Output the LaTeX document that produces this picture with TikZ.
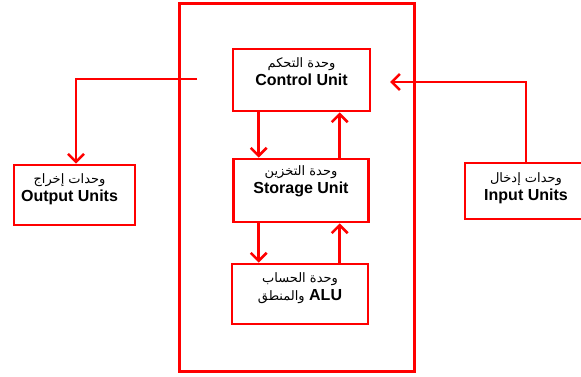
\documentclass[tikz,border=0pt]{standalone}
\usepackage{fontspec}
\setmainfont{Liberation Sans}
\newfontfamily\arabicfont[Script=Arabic]{DejaVu Sans}
\TeXXeTstate=1
\usetikzlibrary{arrows.meta}

\tikzset{
  unitbox/.style={draw=red, line width=2.6pt, inner sep=0pt},
  unittext/.style={align=center, font=\fontsize{16}{19}\selectfont\bfseries, inner sep=0pt},
  arr/.style={draw=red, line width=2.6pt, -{Straight Barb[length=8pt,width=16pt]}}
}
\newcommand{\ar}[1]{{\arabicfont\fontsize{13}{14}\selectfont\mdseries\beginR #1\endR}}

\begin{document}
\begin{tikzpicture}[x=1pt,y=-1pt]
  \useasboundingbox (0,0) rectangle (581,377);

  % the big frame
  \node[unitbox, minimum width=235pt, minimum height=368pt] (cpu) at (297,187.5) {};

  % units inside the frame
  \node[unitbox, minimum width=137pt, minimum height=62pt] (control) at (301.5,80) {};
  \node[unitbox, minimum width=135pt, minimum height=63pt] (storage) at (301,190.5) {};
  \node[unitbox, minimum width=136pt, minimum height=60pt] (alu) at (300,294) {};

  % outside units
  \node[unitbox, minimum width=121pt, minimum height=60pt] (output) at (74.5,195) {};
  \node[unitbox, minimum width=120pt, minimum height=56pt] (input) at (525,191) {};

  \node[unittext] (controltxt) at ([yshift=8pt]control.center) {\ar{وحدة التحكم}\\[-1pt] Control Unit};
  \node[unittext] (storagetxt) at ([yshift=9pt]storage.center) {\ar{وحدة التخزين}\\[-1pt] Storage Unit};
  \node[unittext] (alutxt) at ([yshift=6pt]alu.center) {\ar{وحدة الحساب}\\[-1pt] \ar{والمنطق} ALU};
  \node[unittext] (outputtxt) at ([xshift=-5pt,yshift=5.5pt]output.center) {\ar{وحدات إخراج}\\[-1pt] Output Units};
  \node[unittext] (inputtxt) at ([xshift=1pt,yshift=3pt]input.center) {\ar{وحدات إدخال}\\[-1pt] Input Units};

  % connectors
  \coordinate (outstart) at (197,79);
  \coordinate (inend) at (390,82);
  \draw[arr] (outstart) -| ([xshift=1.5pt]output.north);
  \draw[arr] ([xshift=1pt]input.north) |- (inend);

  \draw[arr] ([xshift=27pt]control.south west) -- ([xshift=27pt]control.south west |- storage.north);
  \draw[arr] ([xshift=108pt]control.south west |- storage.north) -- ([xshift=108pt]control.south west);
  \draw[arr] ([xshift=27pt]control.south west |- storage.south) -- ([xshift=27pt]control.south west |- alu.north);
  \draw[arr] ([xshift=108pt]control.south west |- alu.north) -- ([xshift=108pt]control.south west |- storage.south);
\end{tikzpicture}
\end{document}
